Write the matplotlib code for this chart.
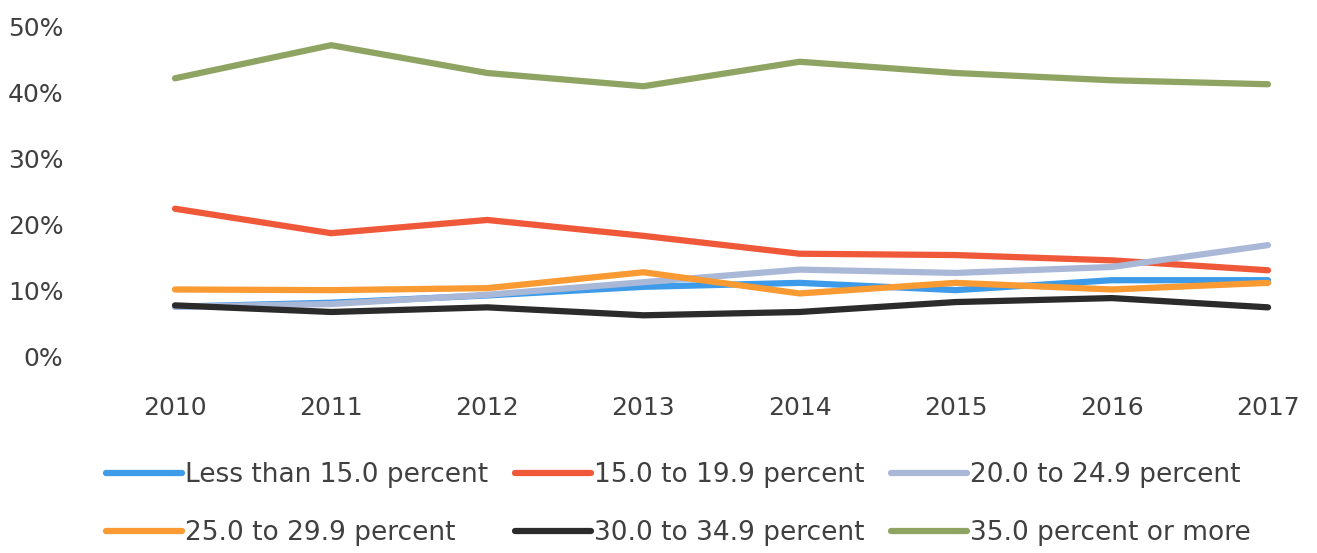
import matplotlib.pyplot as plt
from matplotlib.ticker import FuncFormatter

years = [2010, 2011, 2012, 2013, 2014, 2015, 2016, 2017]

less_15 = [7.6, 8.2, 9.3, 10.6, 11.2, 10.1, 11.6, 11.6]
p15_19 = [22.4, 18.7, 20.7, 18.3, 15.6, 15.4, 14.6, 13.1]
p20_24 = [7.6, 8.0, 9.4, 11.3, 13.2, 12.7, 13.6, 16.9]
p25_29 = [10.2, 10.1, 10.4, 12.8, 9.6, 11.2, 10.2, 11.2]
p30_34 = [7.8, 6.8, 7.5, 6.3, 6.8, 8.3, 8.9, 7.5]
p35_up = [42.1, 47.1, 42.9, 40.9, 44.6, 42.9, 41.8, 41.2]

labels = ['Less than 15.0 percent', '15.0 to 19.9 percent', '20.0 to 24.9 percent',
          '25.0 to 29.9 percent', '30.0 to 34.9 percent', '35.0 percent or more']
colors = ['#3d9be9', '#f0583a', '#aab8d8', '#f99a32', '#2b2b2b', '#8fa463']
series = [less_15, p15_19, p20_24, p25_29, p30_34, p35_up]

fig = plt.figure(figsize=(13.17, 5.53), dpi=100)
ax = fig.add_axes([80/1317, 196/553, 1 - 80/1317, 331/553])

lines = []
for vals, lab, col in zip(series, labels, colors):
    ln, = ax.plot(years, vals, color=col, lw=4.5, label=lab, solid_capstyle='round')
    lines.append(ln)

ax.set_ylim(0, 50)
ax.set_xlim(2010 - 95/156.14, 2017 + 49/156.14)
ax.set_yticks(range(0, 51, 10))
ax.yaxis.set_major_formatter(FuncFormatter(lambda v, p: f'{int(v)}%'))
ax.set_xticks(years)
ax.tick_params(length=0, labelsize=18, colors='#404040')
ax.tick_params(axis='y', pad=12)
ax.tick_params(axis='x', pad=28)
for s in ax.spines.values():
    s.set_visible(False)

order = [0, 3, 1, 4, 2, 5]
fig.legend([lines[i] for i in order], [labels[i] for i in order], ncol=3,
           loc='lower center', bbox_to_anchor=(0.515, -0.03), frameon=False,
           fontsize=19, labelcolor='#404040', handlelength=2.9, handletextpad=0.1,
           columnspacing=1.0, labelspacing=1.2)

fig.savefig('out.png', dpi=100)
